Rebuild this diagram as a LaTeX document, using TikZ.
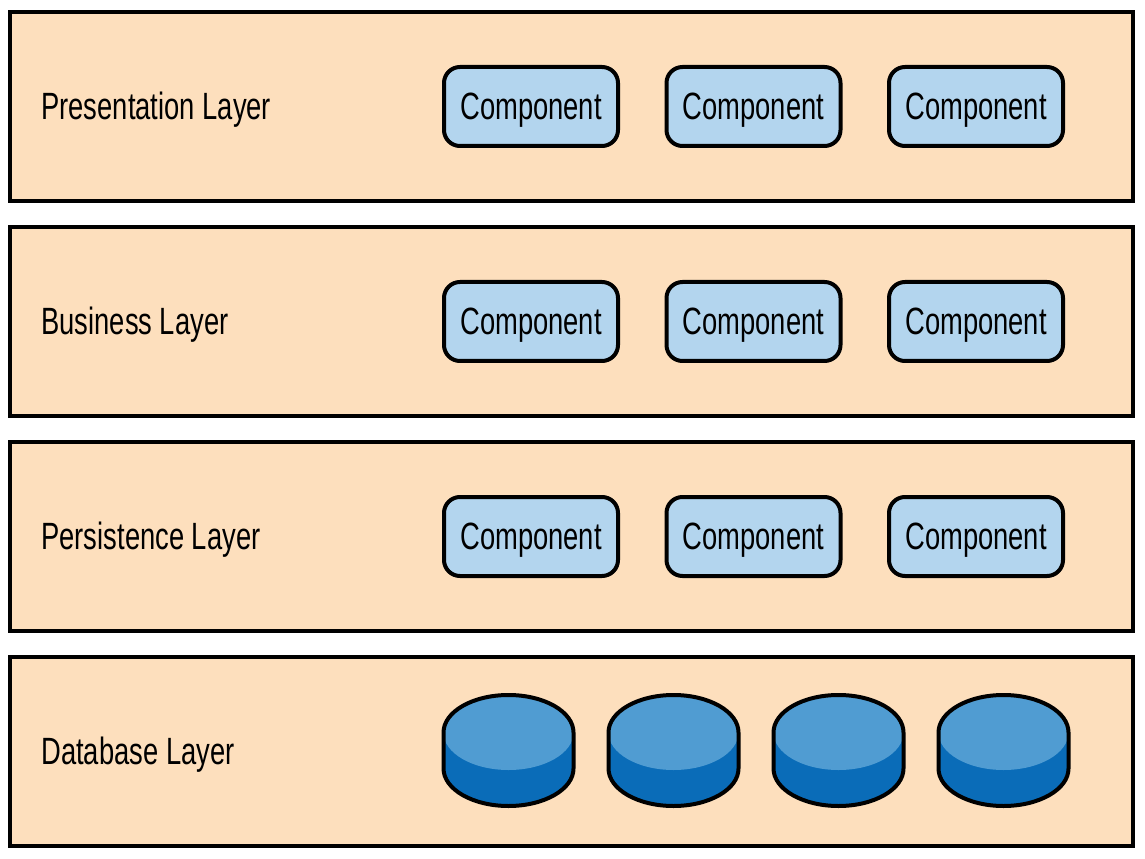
\documentclass[tikz,border=0pt]{standalone}
\usepackage{fontspec}
\setmainfont{Liberation Sans}[FakeStretch=0.72]
\usetikzlibrary{positioning}
\definecolor{layerfill}{HTML}{FDDFBD}
\definecolor{compfill}{HTML}{B3D5EE}
\definecolor{dbtop}{HTML}{509CD2}
\definecolor{dbside}{HTML}{0A6CB8}
\tikzset{
  layer/.style = {draw, line width=2pt, fill=layerfill, minimum width=561.5pt, minimum height=94.5pt},
  layerlabel/.style = {anchor=west, inner sep=0pt, text height=12.8pt, text depth=0pt, font=\fontsize{19pt}{22pt}\selectfont},
  comp/.style = {draw, line width=2pt, fill=compfill, rounded corners=8pt, minimum width=87pt, minimum height=39.5pt, inner sep=0pt, text height=12.8pt, text depth=0pt, font=\fontsize{19pt}{22pt}\selectfont}
}

\begin{document}
\begin{tikzpicture}[x=0.5pt, y=0.5pt]
\useasboundingbox (0,0) rectangle (1145,858);
% layers
\node [layer] (presentation) at (571.5,751.5) {};
\node [layer] (business) at (571.5,536.5) {};
\node [layer] (persistence) at (571.5,321.5) {};
\node [layer] (database) at (571.5,106.5) {};
\node [layerlabel] (presentationlabel) at (41,751.5) {Presentation Layer};
\node [layerlabel] (businesslabel) at (41,536.5) {Business Layer};
\node [layerlabel] (persistencelabel) at (41,321.5) {Persistence Layer};
\node [layerlabel] (databaselabel) at (41,106.5) {Database Layer};
% components
\foreach \y/\lay in {751.5/p, 536.5/b, 321.5/s}
  \foreach \x [count=\i] in {531, 753.5, 976}
    \node [comp] (comp\lay\i) at (\x,\y) {Component};
% database disks
\foreach \cx in {508.5, 673.5, 838.5, 1003.5} {
  \fill [dbside] ({\cx-65},125.5) -- ({\cx-65},89.5)
    arc [start angle=180, end angle=360, x radius=32.5pt, y radius=18.75pt]
    -- ({\cx+65},125.5) -- cycle;
  \fill [dbtop] (\cx,125.5) ellipse [x radius=32.5pt, y radius=18.75pt];
  \draw [line width=2pt] ({\cx-65},89.5)
    arc [start angle=180, end angle=360, x radius=32.5pt, y radius=18.75pt]
    -- ({\cx+65},125.5)
    arc [start angle=0, end angle=180, x radius=32.5pt, y radius=18.75pt]
    -- cycle;
}
\end{tikzpicture}
\end{document}
